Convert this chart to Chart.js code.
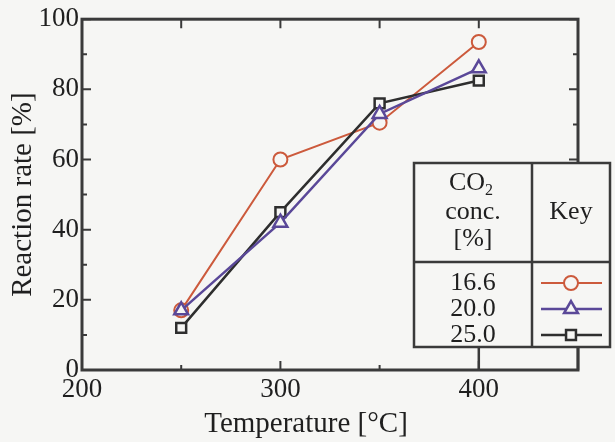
<!DOCTYPE html>
<html>
<head>
<meta charset="utf-8">
<script src="https://cdn.jsdelivr.net/npm/chart.js@4/dist/chart.umd.min.js"></script>
<style>
  html, body { margin: 0; padding: 0; background: #f6f6f4; }
  #wrap { width: 615px; height: 442px; position: relative; }
</style>
</head>
<body>
<div id="wrap"><canvas id="chart" width="615" height="442"></canvas></div>
<script>
// Data
const temps = [250, 300, 350, 400];
const rate166 = [17, 60, 70.5, 93.5];
const rate200 = [17, 42, 73, 86];
const rate250 = [12, 45, 76, 82.5];
const concLabels = ['16.6', '20.0', '25.0'];
const xTickValues = [200, 300, 400];
const yTickValues = [0, 20, 40, 60, 80, 100];

const serif = '"Liberation Serif", "DejaVu Serif", serif';
const ink = '#1f1f1f';
const bg = '#f6f6f4';
const red = '#cc5a3c';
const purple = '#5a4898';
const black = '#2e2e2e';
const frame = '#3a3a3a';

function pts(vals) {
  return temps.map((t, i) => ({ x: t, y: vals[i] }));
}

// Frame, inward ticks, x title and the CO2 key table
const decorPlugin = {
  id: 'decor',
  afterDatasetsDraw(chart) {
    const ctx = chart.ctx;
    const xs = chart.scales.x, ys = chart.scales.y;
    const a = chart.chartArea;
    ctx.save();
    ctx.strokeStyle = frame;
    ctx.lineWidth = 3;
    ctx.strokeRect(a.left, a.top, a.right - a.left, a.bottom - a.top);

    ctx.lineWidth = 2;
    ctx.beginPath();
    // y ticks left and right
    for (let v = 0; v <= 100; v += 10) {
      const py = ys.getPixelForValue(v);
      const len = v % 20 === 0 ? 9 : 5;
      ctx.moveTo(a.left, py); ctx.lineTo(a.left + len, py);
      ctx.moveTo(a.right, py); ctx.lineTo(a.right - len, py);
    }
    // x ticks bottom and top
    for (let v = 250; v < 450; v += 50) {
      const px = xs.getPixelForValue(v);
      const len = v % 100 === 0 ? 9 : 5;
      ctx.moveTo(px, a.bottom); ctx.lineTo(px, a.bottom - len);
      ctx.moveTo(px, a.top); ctx.lineTo(px, a.top + 9);
    }
    ctx.stroke();

    // x axis title
    ctx.fillStyle = ink;
    ctx.font = '29px ' + serif;
    ctx.textAlign = 'center';
    ctx.textBaseline = 'middle';
    ctx.fillText('Temperature [\u00B0C]', 306, 424);

    // key table
    const L = 414, R = 610, T = 163, B = 347, mid = 532, hy = 262;
    ctx.fillStyle = bg;
    ctx.fillRect(L, T, R - L, B - T);
    ctx.strokeStyle = frame;
    ctx.lineWidth = 2.5;
    ctx.strokeRect(L, T, R - L, B - T);
    ctx.beginPath();
    ctx.moveTo(mid, T); ctx.lineTo(mid, B);
    ctx.moveTo(L, hy); ctx.lineTo(R, hy);
    // leader lines from table to axis
    const p400 = xs.getPixelForValue(400);
    ctx.moveTo(p400, B); ctx.lineTo(p400, a.bottom);
    ctx.moveTo(a.right, B); ctx.lineTo(a.right, a.bottom);
    ctx.stroke();

    const cx = (L + mid) / 2;
    ctx.fillStyle = ink;
    ctx.font = '26px ' + serif;
    ctx.textAlign = 'center';
    ctx.fillText('CO', cx - 6, 183);
    ctx.font = '16px ' + serif;
    ctx.fillText('2', cx + 16, 191);
    ctx.font = '26px ' + serif;
    ctx.fillText('conc.', cx, 212);
    ctx.fillText('[%]', cx, 239);
    ctx.fillText('Key', (mid + R) / 2, 212);

    ctx.font = '26px ' + serif;
    const rowsY = [283, 309, 335];
    const sets = chart.data.datasets;
    concLabels.forEach((lab, i) => {
      ctx.fillStyle = ink;
      ctx.fillText(lab, cx, rowsY[i]);
      const ds = sets[i];
      ctx.strokeStyle = ds.borderColor;
      ctx.lineWidth = ds.borderWidth;
      ctx.beginPath();
      ctx.moveTo(541, rowsY[i]); ctx.lineTo(602, rowsY[i]);
      ctx.stroke();
      ctx.fillStyle = ds.pointBackgroundColor;
      ctx.lineWidth = ds.pointBorderWidth;
      Chart.helpers.drawPoint(ctx, {
        pointStyle: ds.pointStyle, radius: ds.pointRadius, rotation: 0, borderWidth: ds.pointBorderWidth
      }, 571, rowsY[i]);
    });
    ctx.restore();
  }
};

new Chart(document.getElementById('chart'), {
  type: 'line',
  data: {
    datasets: [
      { label: '16.6', data: pts(rate166), borderColor: red, borderWidth: 2,
        pointStyle: 'circle', pointRadius: 7, pointBorderWidth: 2,
        pointBackgroundColor: bg, pointBorderColor: red, order: 2 },
      { label: '20.0', data: pts(rate200), borderColor: purple, borderWidth: 2.5,
        pointStyle: 'triangle', pointRadius: 8, pointBorderWidth: 2.5,
        pointBackgroundColor: bg, pointBorderColor: purple, order: 0 },
      { label: '25.0', data: pts(rate250), borderColor: black, borderWidth: 2.5,
        pointStyle: 'rect', pointRadius: 7, pointBorderWidth: 2.5,
        pointBackgroundColor: bg, pointBorderColor: black, order: 1 }
    ]
  },
  options: {
    responsive: false,
    animation: false,
    layout: { padding: { top: 18, right: 37, left: 0, bottom: 0 } },
    plugins: { legend: { display: false }, tooltip: { enabled: false } },
    scales: {
      x: {
        type: 'linear', min: 200, max: 450,
        afterBuildTicks: s => { s.ticks = xTickValues.map(v => ({ value: v })); },
        afterFit: s => { s.height = 72; },
        grid: { display: false, drawTicks: false },
        border: { display: false },
        ticks: { font: { family: serif, size: 27 }, color: ink, padding: 4, maxRotation: 0 }
      },
      y: {
        min: 0, max: 100,
        afterBuildTicks: s => { s.ticks = yTickValues.map(v => ({ value: v })); },
        afterFit: s => { s.width = 82; },
        grid: { display: false, drawTicks: false },
        border: { display: false },
        ticks: { font: { family: serif, size: 27 }, color: ink, padding: 3 },
        title: { display: true, text: 'Reaction rate [%]', font: { family: serif, size: 29 },
                 color: ink, padding: { top: 6, bottom: 0 } }
      }
    }
  },
  plugins: [decorPlugin]
});
</script>
</body>
</html>
